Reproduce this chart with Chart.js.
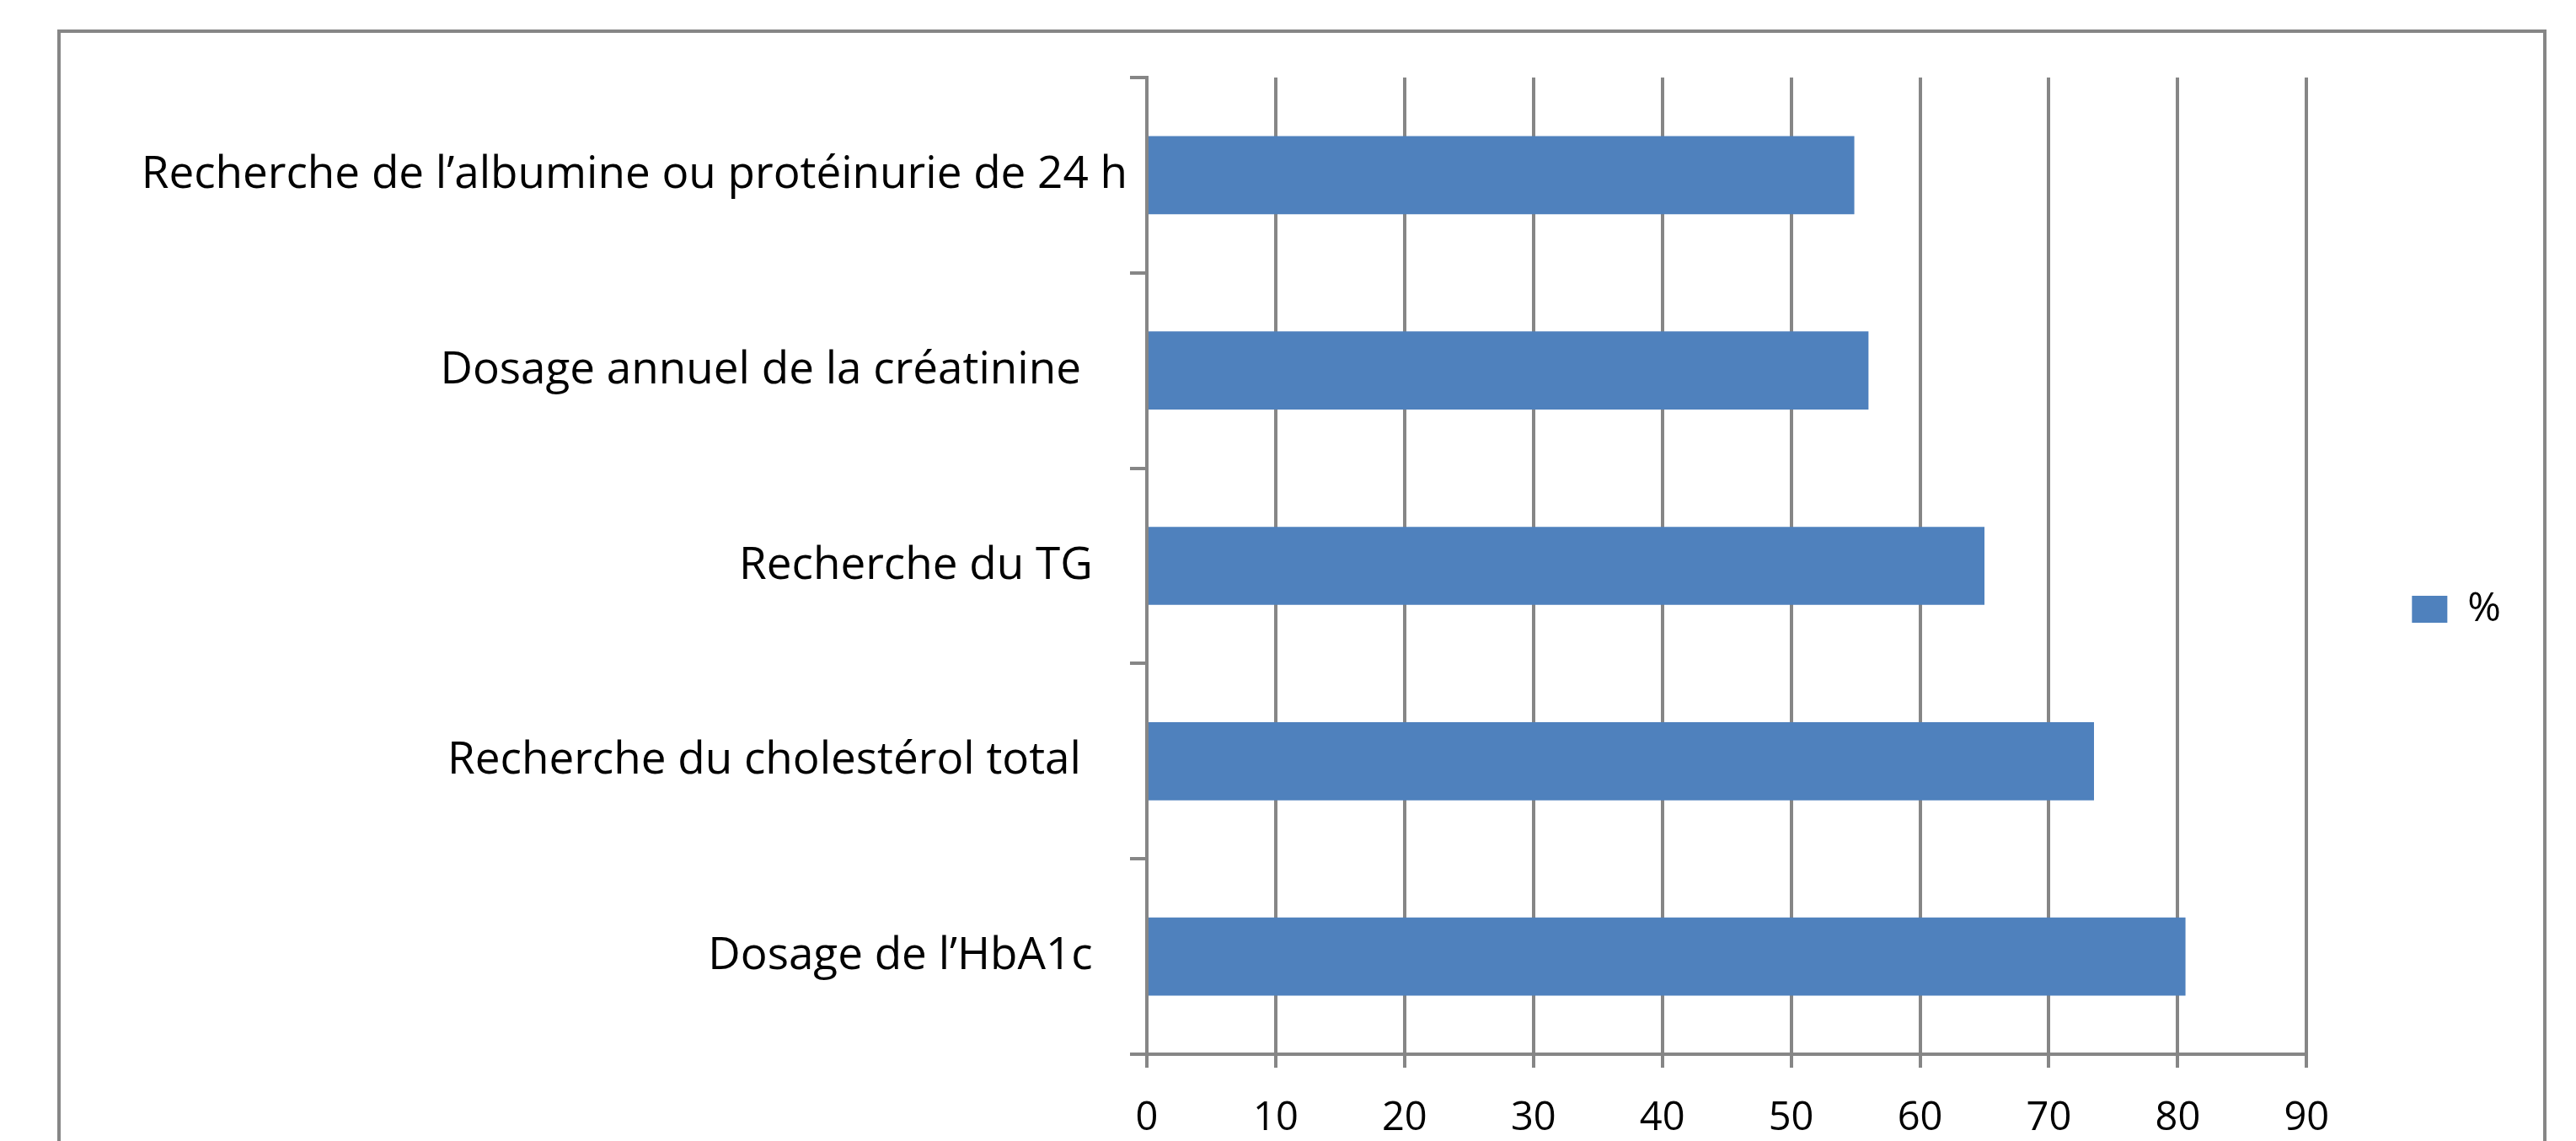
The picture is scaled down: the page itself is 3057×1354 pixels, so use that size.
<!DOCTYPE html>
<html>
<head>
<meta charset="utf-8">
<script src="https://cdn.jsdelivr.net/npm/chart.js@4"></script>
<style>
  body { margin: 0; background: #fff; overflow: hidden; }
  #frame {
    position: absolute; left: 68px; top: 35px;
    width: 2954px; height: 1400px;
    border: 4px solid #868686; box-sizing: border-box;
  }
  #wrap { position: absolute; left: 0; top: 0; width: 3057px; height: 1354px; }
</style>
</head>
<body>
<div id="frame"></div>
<div id="wrap"><canvas id="myChart"></canvas></div>
<script>
// trailing spaces are kept: the original labels have them
const categories = [
  "Recherche de l’albumine ou protéinurie de 24 h",
  "Dosage annuel de la créatinine    ",
  "Recherche du TG   ",
  "Recherche du cholestérol total    ",
  "Dosage de l’HbA1c   ",
];
const percentValues = [54.9, 56, 65, 73.5, 80.6];
const xTickValues = [0, 10, 20, 30, 40, 50, 60, 70, 80, 90];
const seriesName = "%";

const gridColor = "#868686";
const barColor = "#4F81BD";

function createChart() {
  const ctx = document.getElementById("myChart").getContext("2d");
  const myChart = new Chart(ctx, {
    type: "bar",
    data: {
      labels: categories,
      datasets: [
        {
          label: seriesName,
          data: percentValues,
          backgroundColor: barColor,
          borderWidth: 0,
          barPercentage: 0.4,
          categoryPercentage: 1,
        },
      ],
    },
    options: {
      indexAxis: "y",
      responsive: true,
      maintainAspectRatio: false,
      animation: false,
      layout: {
        padding: { top: 92, bottom: 0, left: 0, right: 79 },
      },
      scales: {
        x: {
          min: 0,
          max: 90,
          afterBuildTicks: (axis) => {
            axis.ticks = xTickValues.map((v) => ({ value: v }));
          },
          afterFit: (axis) => {
            axis.height = 103;
          },
          grid: {
            color: gridColor,
            lineWidth: 4,
            tickLength: 16,
            drawTicks: true,
          },
          border: { color: gridColor, width: 4 },
          ticks: {
            color: "#000",
            padding: 32,
            font: { family: "Open Sans", size: 47 },
            maxRotation: 0,
          },
        },
        y: {
          offset: true,
          afterFit: (axis) => {
            axis.width = 1361; // plot area starts where Excel put it
          },
          grid: {
            offset: true,
            drawOnChartArea: false,
            drawTicks: true,
            tickLength: 20,
            color: gridColor,
            lineWidth: 4,
          },
          border: { color: gridColor, width: 4 },
          ticks: {
            color: "#000",
            padding: 3,
            font: { family: "Open Sans", size: 53 },
          },
        },
      },
      plugins: {
        legend: {
          position: "right",
          labels: {
            boxWidth: 42,
            boxHeight: 32,
            padding: 125,
            color: "#000",
            font: { family: "Open Sans", size: 48 },
          },
        },
        tooltip: { enabled: false },
      },
    },
  });
}

window.onload = createChart;
</script>
</body>
</html>
